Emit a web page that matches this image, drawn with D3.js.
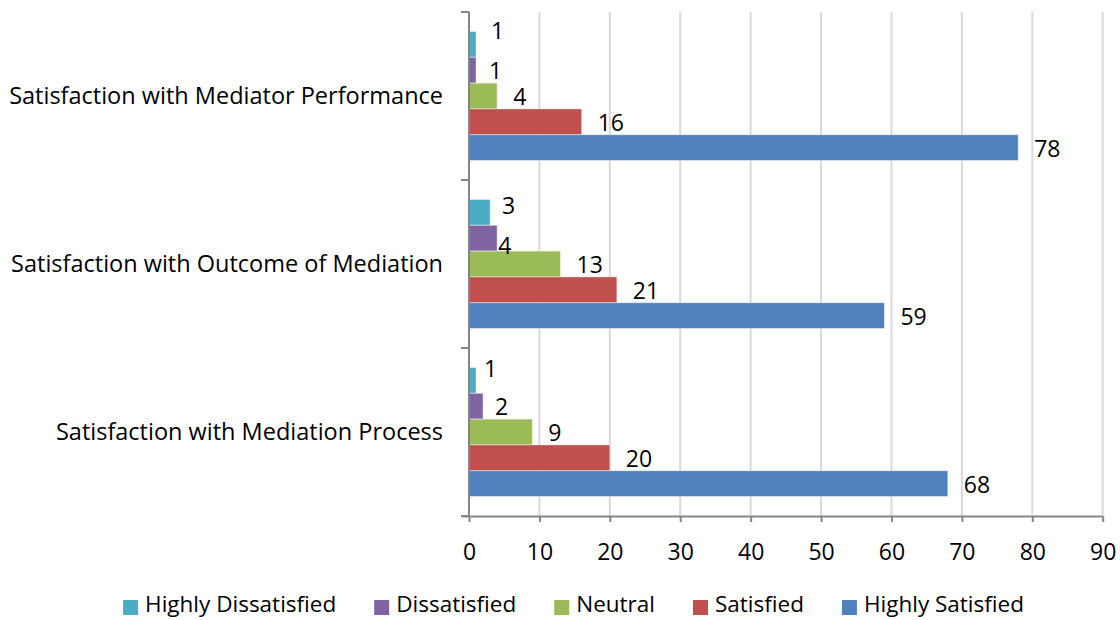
<!DOCTYPE html>
<html>
<head>
<meta charset="utf-8">
<script src="https://cdn.jsdelivr.net/npm/d3@7"></script>
<style>
  html, body { margin: 0; padding: 0; background: #ffffff; }
  svg { display: block; font-family: "Open Sans", Lato, sans-serif; }
</style>
</head>
<body>
<svg id="chart" width="1120" height="620"></svg>
<script>
// Survey categories, top to bottom
const categories = [
  "Satisfaction with Mediator Performance",
  "Satisfaction with Outcome of Mediation",
  "Satisfaction with Mediation Process"
];

// Response levels (series), drawn top to bottom inside each group
const seriesNames = ["Highly Dissatisfied", "Dissatisfied", "Neutral", "Satisfied", "Highly Satisfied"];

// Counts per category, one array per response level
const highlyDissatisfied = [1, 3, 1];
const dissatisfied       = [1, 4, 2];
const neutral            = [4, 13, 9];
const satisfied          = [16, 21, 20];
const highlySatisfied    = [78, 59, 68];

const xTicks = [0, 10, 20, 30, 40, 50, 60, 70, 80, 90];

const seriesColors = ["#4BACC6", "#8064A2", "#9BBB59", "#C0504D", "#4F81BD"];

const seriesValues = [highlyDissatisfied, dissatisfied, neutral, satisfied, highlySatisfied];

// Flattened rows for drawing
const rows = [];
categories.forEach((c, ci) => {
  seriesNames.forEach((s, si) => {
    rows.push({ category: c, series: s, value: seriesValues[si][ci], ci, si });
  });
});

// Small label shifts where neighbouring labels would collide
const labelShift = {
  "0-0": { dx: -1, dy: -14 },
  "0-1": { dx: -3, dy: 0 },
  "1-0": { dx: -4, dy: -7 },
  "1-1": { dx: -15, dy: 7 },
  "2-0": { dx: -8, dy: -12 },
  "2-1": { dx: -4, dy: 0 }
};

const FONT = 23;
const CAT_FONT = 23.5;
const LEGEND_FONT = 22.5;

const svg = d3.select("#chart");
const plot = { left: 469, right: 1102.7, top: 12, bottom: 516 };

const x = d3.scaleLinear().domain([0, 90]).range([plot.left, plot.right]);
const y0 = d3.scaleBand().domain(categories).range([plot.top, plot.bottom]).padding(0);
const y1 = d3.scaleBand().domain(seriesNames).range([0, y0.bandwidth()])
  .paddingInner(0).paddingOuter(0.755);
const color = d3.scaleOrdinal().domain(seriesNames).range(seriesColors);

const axisColor = "#868686";
const gridColor = "#d9d9d9";
const textColor = "#000000";

// Vertical gridlines
svg.append("g")
  .selectAll("line")
  .data(xTicks.filter(t => t > 0))
  .join("line")
  .attr("x1", d => x(d)).attr("x2", d => x(d))
  .attr("y1", plot.top).attr("y2", plot.bottom)
  .attr("stroke", gridColor).attr("stroke-width", 2);

// Bars
const groups = svg.append("g")
  .selectAll("g")
  .data(categories)
  .join("g")
  .attr("transform", d => `translate(0,${y0(d)})`);

groups.selectAll("rect")
  .data((c, ci) => rows.filter(r => r.ci === ci))
  .join("rect")
  .attr("x", x(0))
  .attr("y", d => y1(d.series))
  .attr("width", d => x(d.value) - x(0))
  .attr("height", y1.bandwidth())
  .attr("fill", d => color(d.series))
  .attr("stroke", "rgba(255,255,255,0.45)")
  .attr("stroke-width", 1);

// Value labels
groups.selectAll("text")
  .data((c, ci) => rows.filter(r => r.ci === ci))
  .join("text")
  .attr("x", d => x(d.value) + 16 + ((labelShift[d.ci + "-" + d.si] || {}).dx || 0))
  .attr("y", d => y1(d.series) + y1.bandwidth() / 2 + ((labelShift[d.ci + "-" + d.si] || {}).dy || 0))
  .attr("dominant-baseline", "central")
  .attr("font-size", FONT)
  .attr("fill", textColor)
  .text(d => d.value);

// X axis
const xAxis = d3.axisBottom(x).tickValues(xTicks).tickSize(6).tickPadding(22).tickFormat(d3.format("d"));
const gx = svg.append("g")
  .attr("transform", `translate(0,${plot.bottom})`)
  .call(xAxis);
gx.select(".domain").attr("stroke", axisColor).attr("stroke-width", 2)
  .attr("d", `M${x(0) - 7},0.5H${x(90)}`);
gx.selectAll(".tick line").attr("stroke", axisColor).attr("stroke-width", 2);
gx.selectAll(".tick text").attr("font-size", FONT).attr("fill", textColor)
  .attr("font-family", "'Open Sans', Lato, sans-serif");

// Y axis: category boundaries with ticks, labels centred in each band
const gy = svg.append("g");
gy.append("line")
  .attr("x1", x(0)).attr("x2", x(0))
  .attr("y1", plot.top).attr("y2", plot.bottom)
  .attr("stroke", axisColor).attr("stroke-width", 2);
gy.selectAll("line.tick")
  .data(categories.map(c => y0(c)).concat([plot.bottom]))
  .join("line")
  .attr("class", "tick")
  .attr("x1", x(0) - 8).attr("x2", x(0))
  .attr("y1", d => d).attr("y2", d => d)
  .attr("stroke", axisColor).attr("stroke-width", 2);
gy.selectAll("text")
  .data(categories)
  .join("text")
  .attr("x", 443)
  .attr("y", d => y0(d) + y0.bandwidth() / 2 - 1)
  .attr("text-anchor", "end")
  .attr("dominant-baseline", "central")
  .attr("font-size", CAT_FONT)
  .attr("fill", textColor)
  .text(d => d);

// Legend along the bottom, centred
const legend = svg.append("g").attr("transform", "translate(0,612)");
const items = legend.selectAll("g")
  .data(seriesNames)
  .join("g");
items.append("rect")
  .attr("x", 0).attr("y", -12)
  .attr("width", 15).attr("height", 15)
  .attr("fill", d => color(d));
items.append("text")
  .attr("x", 22).attr("y", 0)
  .attr("font-size", LEGEND_FONT)
  .attr("fill", textColor)
  .text(d => d);
let cursor = 0;
const widths = [];
items.each(function () {
  const w = 22 + d3.select(this).select("text").node().getComputedTextLength();
  widths.push(w);
});
const gap = 38;
const total = d3.sum(widths) + gap * (widths.length - 1);
cursor = 573.5 - total / 2;
items.attr("transform", (d, i) => {
  const t = `translate(${cursor},0)`;
  cursor += widths[i] + gap;
  return t;
});
</script>
</body>
</html>
